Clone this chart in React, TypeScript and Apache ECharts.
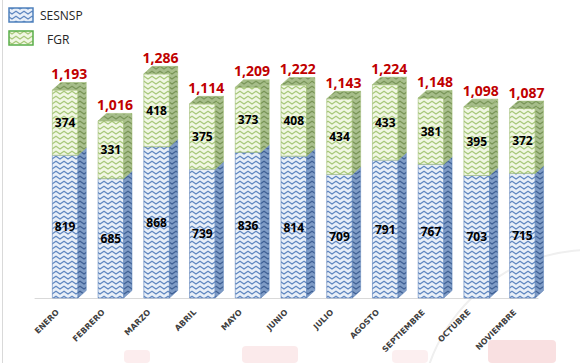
import React, { useEffect, useRef } from "react";
import * as echarts from "echarts";

const months = ["ENERO", "FEBRERO", "MARZO", "ABRIL", "MAYO", "JUNIO", "JULIO", "AGOSTO", "SEPTIEMBRE", "OCTUBRE", "NOVIEMBRE"];
const sesnsp = [819, 685, 868, 739, 836, 814, 709, 791, 767, 703, 715];
const fgr = [374, 331, 418, 375, 373, 408, 434, 433, 381, 395, 372];
const totals = [1193, 1016, 1286, 1114, 1209, 1222, 1143, 1224, 1148, 1098, 1087];
const seriesNames = ["SESNSP", "FGR"];

function makeTile(bg: string, fg: string): any {
  const w = 8, h = 5;
  const c = document.createElement("canvas");
  c.width = w; c.height = h;
  const ctx = c.getContext("2d")!;
  ctx.fillStyle = bg; ctx.fillRect(0, 0, w, h);
  ctx.strokeStyle = fg; ctx.lineWidth = 1.2;
  for (const oy of [-h, 0, h]) {
    ctx.beginPath();
    ctx.moveTo(-1, oy + 0.5); ctx.lineTo(w / 2, oy + 4); ctx.lineTo(w + 1, oy + 0.5);
    ctx.stroke();
  }
  return { image: c.toDataURL(), repeat: "repeat", imageWidth: w, imageHeight: h };
}

export default function App() {
  const ref = useRef<HTMLDivElement>(null);
  useEffect(() => {
    if (!ref.current) return;
    document.body.style.margin = "0";
    const chart = echarts.init(ref.current, null, { renderer: "svg" });
    const blueFront = makeTile("#e8eff8", "#5f87c0");
    const blueSide = makeTile("#7f9cc6", "#3f6094");
    const greenFront = makeTile("#f1f7e4", "#a8c87a");
    const greenSide = makeTile("#a9bf8e", "#789456");
    const greenTop = makeTile("#a6bd8a", "#7a965a");

    const DX = 8.3, DY = 7.5, FL = -5.5, FW = 25.6;
    const render = (kind: "b" | "g") => (params: any, api: any) => {
      const idx = api.value(0), base = api.value(1), val = api.value(2);
      const c = api.coord([idx, 0])[0];
      const y0 = api.coord([idx, base])[1];
      const y1 = api.coord([idx, base + val])[1];
      const xl = c + FL, xr = xl + FW;
      const edge = kind === "b" ? "#5a80b8" : "#9cba70";
      const children: any[] = [
        { type: "rect", shape: { x: xl, y: y1, width: FW, height: y0 - y1 }, style: { fill: kind === "b" ? blueFront : greenFront, stroke: edge, lineWidth: 0.6 } },
        { type: "polygon", shape: { points: [[xr, y1], [xr + DX, y1 - DY], [xr + DX, y0 - DY], [xr, y0]] }, style: { fill: kind === "b" ? blueSide : greenSide, stroke: edge, lineWidth: 0.5 } },
        { type: "text", style: { text: String(val), x: xl + FW / 2, y: (y0 + y1) / 2, align: "center", verticalAlign: "middle", fontFamily: "Open Sans", fontWeight: "bold", fontSize: 12, fill: "#000000" } },
      ];
      if (kind === "g") {
        children.push({ type: "polygon", shape: { points: [[xl, y1], [xl + DX, y1 - DY], [xr + DX, y1 - DY], [xr, y1]] }, style: { fill: greenTop, stroke: edge, lineWidth: 0.5 } });
        children.push({ type: "text", style: { text: totals[idx].toLocaleString("en-US"), x: xl + FW / 2 + 4, y: y1 - DY - 9, align: "center", verticalAlign: "middle", fontFamily: "Open Sans", fontWeight: "bold", fontSize: 14, fill: "#c00000" } });
      }
      return { type: "group", children };
    };

    chart.setOption({
      animation: false,
      grid: { left: 35, right: 42, top: 54, bottom: 65 },
      xAxis: {
        type: "category", data: months, offset: 4,
        axisLine: { lineStyle: { color: "#d9d9d9" } }, axisTick: { show: false },
        axisLabel: { rotate: 45, interval: 0, margin: 9, fontFamily: "DejaVu Sans", fontWeight: "bold", fontSize: 8, color: "#404040" },
      },
      yAxis: { type: "value", min: 0, max: 1400, show: false },
      series: [
        { type: "custom", name: seriesNames[0], renderItem: render("b"), encode: { x: 0, y: 2 }, data: sesnsp.map((v, i) => [i, 0, v]) },
        { type: "custom", name: seriesNames[1], renderItem: render("g"), encode: { x: 0, y: 2 }, data: fgr.map((v, i) => [i, sesnsp[i], v]) },
      ],
      graphic: [
        { type: "line", shape: { x1: 2.5, y1: 0, x2: 2.5, y2: 363 }, style: { stroke: "#d9d9d9", lineWidth: 1 } },
        { type: "arc", shape: { cx: 590, cy: 420, r: 170, startAngle: Math.PI * 1.05, endAngle: Math.PI * 1.6 }, style: { stroke: "#efefef", lineWidth: 2, fill: null } },
        { type: "rect", shape: { x: 124, y: 350, width: 26, height: 13, r: 4 }, style: { fill: "rgba(225,80,90,0.10)" } },
        { type: "rect", shape: { x: 242, y: 346, width: 56, height: 17, r: 4 }, style: { fill: "rgba(225,80,90,0.12)" } },
        { type: "rect", shape: { x: 392, y: 350, width: 36, height: 13, r: 4 }, style: { fill: "rgba(225,80,90,0.09)" } },
        { type: "rect", shape: { x: 488, y: 340, width: 68, height: 23, r: 4 }, style: { fill: "rgba(215,60,70,0.16)" } },
        { type: "rect", shape: { x: 9, y: 8, width: 24, height: 14 }, style: { fill: blueFront, stroke: "#4f81bd", lineWidth: 1.5 } },
        { type: "text", style: { text: seriesNames[0], x: 40, y: 15, verticalAlign: "middle", fontFamily: "Open Sans", fontSize: 12, fill: "#262626" } },
        { type: "rect", shape: { x: 9, y: 31, width: 24, height: 14 }, style: { fill: greenFront, stroke: "#5aae4a", lineWidth: 1.5 } },
        { type: "text", style: { text: seriesNames[1], x: 47, y: 39, verticalAlign: "middle", fontFamily: "Open Sans", fontSize: 12, fill: "#262626" } },
      ],
    });
    return () => chart.dispose();
  }, []);
  return <div ref={ref} style={{ position: "fixed", left: 0, top: 0, width: 580, height: 363, background: "#ffffff" }} />;
}
